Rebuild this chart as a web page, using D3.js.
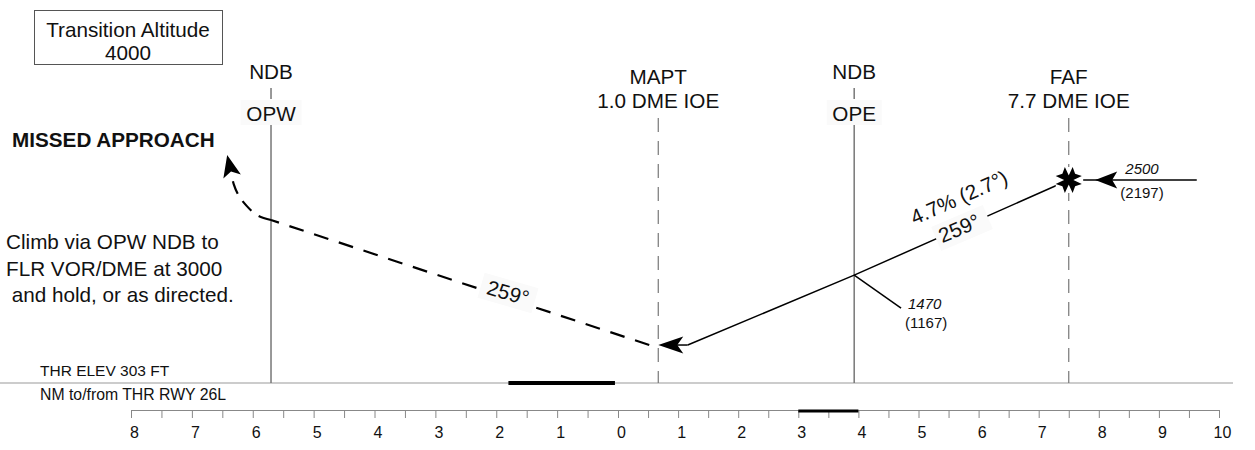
<!DOCTYPE html>
<html>
<head>
<meta charset="utf-8">
<script src="https://cdn.jsdelivr.net/npm/d3@7"></script>
<style>
body { margin: 0; background: #fff; }
text { font-family: "Liberation Sans", Arial, Helvetica, sans-serif; fill: #111; }
</style>
</head>
<body>
<script>
var width = 1255;
var height = 450;

// distance scale labels, NM to/from threshold (negative = before THR)
var axisLabels = [-8, -7, -6, -5, -4, -3, -2, -1, 0, 1, 2, 3, 4, 5, 6, 7, 8, 9, 10];

// fixes along the profile
var fixDist = [-5.7, 0.67, 3.93, 7.5];
var fixTitle = [["NDB"], ["MAPT", "1.0 DME IOE"], ["NDB"], ["FAF", "7.7 DME IOE"]];
var fixIdent = ["OPW", null, "OPE", null];
var fixDashed = [false, true, false, true];

// final approach path (NM, ft)
var glideDist = [0.67, 1.16, 3.93, 7.5];
var glideAlt = [714, 714, 1470, 2500];

// inbound leg to FAF
var inboundDist = [7.74, 9.63];
var inboundAlt = [2500, 2500];

// missed approach: straight climb then turn
var missedDist = [0.52, -5.7];
var missedAlt = [714, 2067];
var turnDist = [-5.7, -5.93, -6.1, -6.22, -6.31, -6.35, -6.42];
var turnAlt = [2067, 2120, 2220, 2320, 2450, 2570, 2770];

var runwayDist = [-1.8, -0.05];
var scaleBarDist = [3, 4];

var thrElev = 303;
var fafAlt = 2500;

var fs = "20.7px";

var x = d3.scaleLinear().domain([-8, 0, 10]).range([131, 618, 1219]);
var y = d3.scaleLinear().domain([thrElev, fafAlt]).range([383, 180]);

var groundY = y(thrElev);
var axisY = 410;

var svg = d3.select('body')
    .append('svg')
    .attr('xmlns', 'http://www.w3.org/2000/svg')
    .attr('width', width)
    .attr('height', height);

function arrowPath(tx, ty, ang, len, hw, notch) {
    var c = Math.cos(ang), s = Math.sin(ang);
    function p(a, b) { return [tx - a * c - b * s, ty - a * s + b * c]; }
    return "M" + [p(0, 0), p(len, hw), p(len - notch, 0), p(len, -hw)].join("L") + "Z";
}

// transition altitude box
svg.append("rect")
    .attr("x", 34.5).attr("y", 10.5).attr("width", 188).attr("height", 54)
    .attr("fill", "none").attr("stroke", "#555").attr("stroke-width", 1);
svg.append("text").attr("x", 128).attr("y", 37).attr("text-anchor", "middle")
    .style("font-size", fs).text("Transition Altitude");
svg.append("text").attr("x", 128).attr("y", 60).attr("text-anchor", "middle")
    .style("font-size", fs).text("4000");

// missed approach text
svg.append("text").attr("x", 12).attr("y", 147)
    .style("font-size", fs).style("font-weight", "bold").text("MISSED APPROACH");
var climb = ["Climb via OPW NDB to", "FLR VOR/DME at 3000", " and hold, or as directed."];
svg.selectAll("text.climb").data(climb).enter().append("text")
    .attr("class", "climb")
    .attr("x", 6)
    .attr("y", function(d, i) { return 249 + i * 26.6; })
    .style("font-size", fs)
    .style("white-space", "pre")
    .attr("xml:space", "preserve")
    .text(function(d) { return d; });

// ground line
svg.append("line")
    .attr("x1", 0).attr("x2", 1233).attr("y1", groundY).attr("y2", groundY)
    .attr("stroke", "#999").attr("stroke-width", 1.2);

// runway
svg.append("line")
    .attr("x1", x(runwayDist[0])).attr("x2", x(runwayDist[1]))
    .attr("y1", groundY).attr("y2", groundY)
    .attr("stroke", "#000").attr("stroke-width", 4);

svg.append("text").attr("x", 40).attr("y", 376).style("font-size", "15.5px").text("THR ELEV 303 FT");
svg.append("text").attr("x", 40).attr("y", 400).style("font-size", "15.8px").text("NM to/from THR RWY 26L");

// fix verticals
var fixes = svg.selectAll("g.fix")
    .data(fixDist)
    .enter()
    .append("g")
    .attr("class", "fix")
    .attr("transform", function(d) { return "translate(" + x(d) + ",0)"; });

fixes.append("line")
    .attr("y1", function(d, i) { return fixIdent[i] ? 125 : 118; })
    .attr("y2", groundY)
    .attr("stroke", "#777")
    .attr("stroke-width", function(d, i) { return fixDashed[i] ? 1.2 : 1.5; })
    .attr("stroke-dasharray", function(d, i) { return fixDashed[i] ? "14,9" : null; });

fixes.each(function(d, i) {
    var g = d3.select(this);
    var t = fixTitle[i];
    if (fixIdent[i]) {
        g.append("text").attr("y", 79).attr("text-anchor", "middle").style("font-size", fs).text(t[0]);
        g.append("line").attr("y1", 88).attr("y2", 99).attr("stroke", "#777").attr("stroke-width", 1.5);
        var w = fixIdent[i] === "OPW" ? 61 : 55;
        g.append("rect").attr("x", -w / 2).attr("y", 100).attr("width", w).attr("height", 25).attr("fill", "#fafafa");
        g.append("text").attr("y", 120.5).attr("text-anchor", "middle").style("font-size", fs).text(fixIdent[i]);
    } else {
        g.selectAll("text.t").data(t).enter().append("text")
            .attr("y", function(s, j) { return 84 + j * 23.5; })
            .attr("text-anchor", "middle")
            .style("font-size", fs)
            .text(function(s) { return s; });
    }
});

var line = d3.line()
    .x(function(d) { return x(d[0]); })
    .y(function(d) { return y(d[1]); });

// final approach path
var glide = glideDist.map(function(d, i) { return [d, glideAlt[i]]; });
svg.append("path")
    .attr("d", line(glide.slice(1)))
    .attr("fill", "none").attr("stroke", "#000").attr("stroke-width", 1.5);
svg.append("path")
    .attr("d", line([[glide[0][0] + 0.3, glide[0][1]], glide[1]]))
    .attr("fill", "none").attr("stroke", "#000").attr("stroke-width", 1.5);
svg.append("path")
    .attr("d", arrowPath(x(glide[0][0]), y(glide[0][1]), Math.PI, 25, 8.5, 6))
    .attr("fill", "#000");

// OPE crossing altitude leader
var opeX = x(fixDist[2]);
var opeY = y(1470);
svg.append("line")
    .attr("x1", opeX).attr("y1", opeY).attr("x2", x(4.71)).attr("y2", y(1114))
    .attr("stroke", "#000").attr("stroke-width", 1.5);
svg.append("text").attr("x", 908).attr("y", 308.5).style("font-size", "15px").style("font-style", "italic").text("1470");
svg.append("text").attr("x", 905).attr("y", 327.5).style("font-size", "15px").text("(1167)");

// gradient / track labels on final
svg.append("text")
    .attr("transform", "translate(962,204) rotate(-24)")
    .attr("text-anchor", "middle").style("font-size", fs).text("4.7% (2.7°)");
svg.append("rect")
    .attr("transform", "translate(962,228) rotate(-23)")
    .attr("x", -28).attr("y", -13).attr("width", 56).attr("height", 26).attr("fill", "#fafafa");
svg.append("text")
    .attr("transform", "translate(962,235) rotate(-23)")
    .attr("text-anchor", "middle").style("font-size", fs).text("259°");

// inbound leg
var inbound = inboundDist.map(function(d, i) { return [d, inboundAlt[i]]; });
svg.append("path")
    .attr("d", line(inbound))
    .attr("fill", "none").attr("stroke", "#000").attr("stroke-width", 1.5);
svg.append("path")
    .attr("d", arrowPath(x(7.94), y(fafAlt), Math.PI, 22, 8.5, 5))
    .attr("fill", "#000");
svg.append("text").attr("x", 1142).attr("y", 174).attr("text-anchor", "middle")
    .style("font-size", "15px").style("font-style", "italic").text("2500");
svg.append("text").attr("x", 1142).attr("y", 198).attr("text-anchor", "middle")
    .style("font-size", "15px").text("(2197)");

// FAF marker (maltese cross)
var fx = x(fixDist[3]), fy = y(fafAlt);
svg.append("rect").attr("x", fx - 13).attr("y", fy - 13).attr("width", 26).attr("height", 26).attr("fill", "#fff");
var fafG = svg.append("g").attr("transform", "translate(" + fx + "," + fy + ")");
[45, 135, 225, 315].forEach(function(a) {
    fafG.append("path")
        .attr("d", "M0,-2L12,-6.5L9,0L12,6.5L0,2Z")
        .attr("transform", "rotate(" + a + ")")
        .attr("fill", "#000");
});
fafG.append("circle").attr("r", 4.5).attr("fill", "#000");

// missed approach
var missed = missedDist.map(function(d, i) { return [d, missedAlt[i]]; });
var turn = turnDist.map(function(d, i) { return [d, turnAlt[i]]; });
svg.append("path")
    .attr("d", line(missed))
    .attr("fill", "none").attr("stroke", "#000").attr("stroke-width", 2.2)
    .attr("stroke-dasharray", "15,11");
svg.append("path")
    .attr("d", line.curve(d3.curveNatural)(turn.slice(0, turn.length - 1)))
    .attr("fill", "none").attr("stroke", "#000").attr("stroke-width", 2.2)
    .attr("stroke-dasharray", "13,9");
line.curve(d3.curveLinear);
var tip = turn[turn.length - 1], back = turn[turn.length - 2];
var ang = Math.atan2(y(tip[1]) - y(back[1]), x(tip[0]) - x(back[0]));
svg.append("path")
    .attr("d", arrowPath(x(tip[0]), y(tip[1]), ang, 22, 9, 5))
    .attr("fill", "#000");

// missed approach track label
svg.append("rect")
    .attr("transform", "translate(508,293) rotate(16)")
    .attr("x", -28).attr("y", -13).attr("width", 56).attr("height", 26).attr("fill", "#fafafa");
svg.append("text")
    .attr("transform", "translate(508,293) rotate(16)")
    .attr("y", 7).attr("text-anchor", "middle").style("font-size", fs).text("259°");

// distance scale
var axis = d3.axisBottom(x)
    .tickValues(d3.range(-8, 10.01, 0.5))
    .tickSize(8)
    .tickFormat(function(d) { return axisLabels.indexOf(d) >= 0 ? Math.abs(d) : ""; });

var axisG = svg.append("g")
    .attr("transform", "translate(0," + axisY + ")")
    .call(axis);
axisG.select(".domain").attr("stroke", "#888").attr("d", "M" + x(-8) + ",0.5H" + x(10));
axisG.selectAll(".tick line").attr("stroke", "#888");
axisG.selectAll(".tick text")
    .attr("y", 23).attr("dx", 3).attr("dy", "0.32em")
    .style("font-size", "16px")
    .attr("font-family", null)
    .attr("fill", "#111");

svg.append("line")
    .attr("x1", x(scaleBarDist[0])).attr("x2", x(scaleBarDist[1]))
    .attr("y1", axisY + 1).attr("y2", axisY + 1)
    .attr("stroke", "#000").attr("stroke-width", 3);
</script>
</body>
</html>
